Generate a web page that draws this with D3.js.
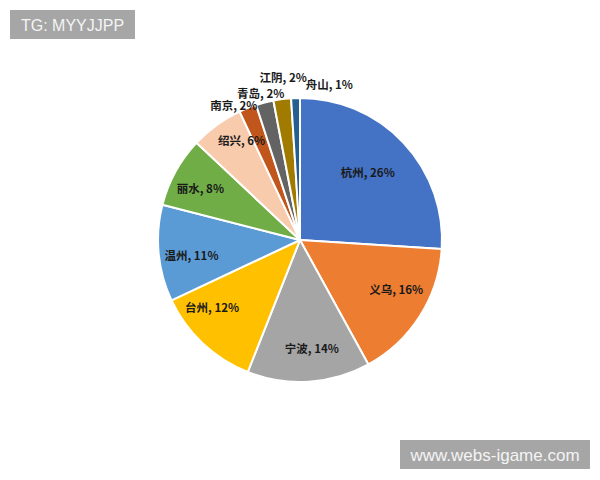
<!DOCTYPE html>
<html><head><meta charset="utf-8">
<script src="https://cdn.jsdelivr.net/npm/d3@7/dist/d3.min.js"></script>
<style>body{margin:0;background:#fff;}svg{display:block;}</style>
</head><body>
<svg id="c" width="600" height="480"></svg>
<script>
const categories = ["杭州","义乌","宁波","台州","温州","丽水","绍兴","南京","青岛","江阴","舟山"];
const values = [26,16,14,12,11,8,6,2,2,2,1];
const colors = ["#4472C4","#ED7D31","#A5A5A5","#FFC000","#5B9BD5","#70AD47","#F8CBAD","#C0561C","#636363","#A07B00","#255E91"];
// label layout (style): inside/outside and nudges
const labelOutside = [false,false,false,false,false,false,false,true,true,true,true];
const labelNudge = [[-11,6],[5,-9],[5,0],[-14,-12],[-1,5],[-5,0],[5,-13],[-11,4.5],[-2,-2],[2,-14],[34,-6]];

const svg = d3.select("#c");
const cx = 300, cy = 240, R = 142;
const data = categories.map((c,i)=>({name:c, value:values[i], i}));
const pie = d3.pie().value(d=>d.value).sort(null).startAngle(0).endAngle(2*Math.PI);
const arcs = pie(data);
const arc = d3.arc().innerRadius(0).outerRadius(R);
const inArc = d3.arc().innerRadius(108).outerRadius(108);
const outArc = d3.arc().innerRadius(150).outerRadius(150);

const g = svg.append("g").attr("transform",`translate(${cx},${cy})`);
g.selectAll("path").data(arcs).join("path")
  .attr("d",arc).attr("fill",d=>colors[d.data.i])
  .attr("stroke","#fff").attr("stroke-width",2).attr("stroke-linejoin","round");

g.selectAll("text.lbl").data(arcs).join("text").attr("class","lbl")
  .attr("transform",d=>{
    const p = (labelOutside[d.data.i]?outArc:inArc).centroid(d);
    const n = labelNudge[d.data.i];
    return `translate(${p[0]+n[0]},${p[1]+n[1]})`;
  })
  .attr("text-anchor","middle").attr("dominant-baseline","central")
  .attr("font-family","'Noto Sans CJK SC','Noto Sans',sans-serif")
  .attr("font-size",11.5).attr("font-weight","bold").attr("fill","#1a1a1a")
  .text(d=>`${d.data.name}, ${d.data.value}%`);

// watermark boxes
function box(x,y,w,h,t,fs){
  svg.append("rect").attr("x",x).attr("y",y).attr("width",w).attr("height",h).attr("fill","#a6a6a6");
  svg.append("text").attr("x",x+w/2).attr("y",y+h/2+1).attr("text-anchor","middle")
    .attr("dominant-baseline","central").attr("font-family","'Liberation Sans',Arial,sans-serif")
    .attr("font-size",fs).attr("fill","#f4f4f4").text(t);
}
box(10,10,125,29,"TG: MYYJJPP",16);
box(400,440,190,29,"www.webs-igame.com",17);
</script>
</body></html>
